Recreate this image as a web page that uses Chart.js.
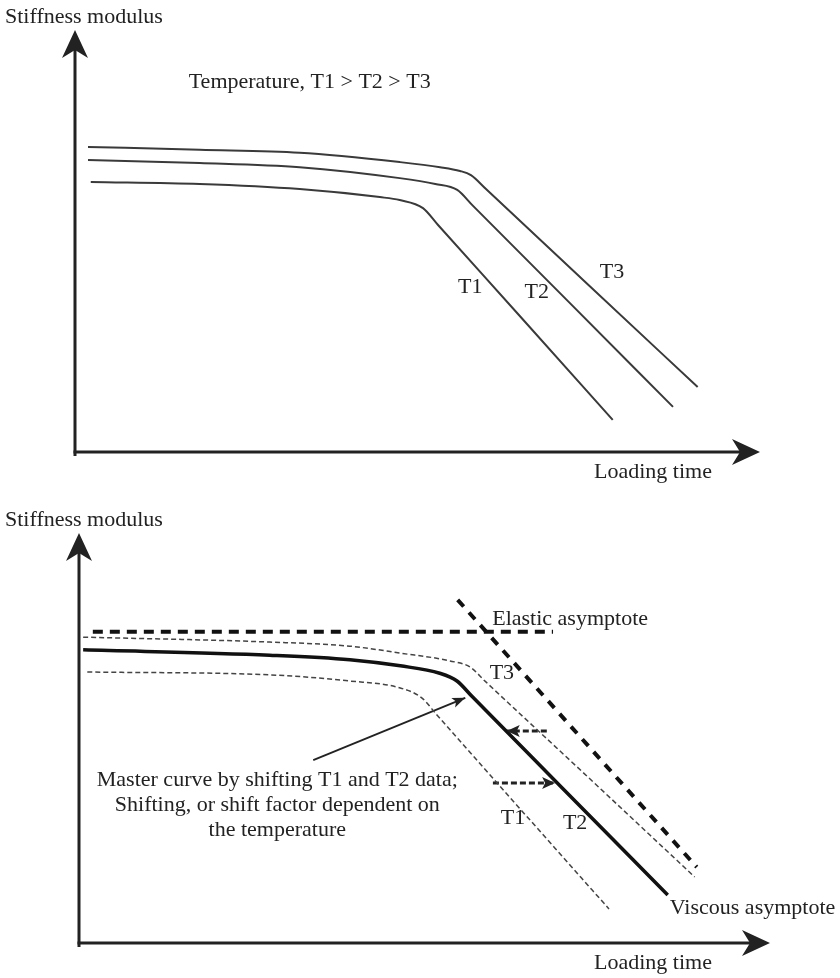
<!DOCTYPE html>
<html>
<head>
<meta charset="utf-8">
<script src="https://cdn.jsdelivr.net/npm/chart.js@4.4.1/dist/chart.umd.min.js"></script>
<style>
  html, body { margin: 0; padding: 0; background: #ffffff; }
  .panel { position: absolute; left: 0; width: 840px; height: 489px; }
  #p1 { top: 0; }
  #p2 { top: 489px; }
</style>
</head>
<body>
<div class="panel" id="p1"><canvas id="c1" width="840" height="489"></canvas></div>
<div class="panel" id="p2"><canvas id="c2" width="840" height="489"></canvas></div>
<script>
// ---- Data (x: log loading time, y: log stiffness modulus; schematic units 0-10) ----
// Top panel: isotherms
const topT1 = [[0.23,6.40],[1.82,6.35],[3.28,6.23],[4.45,6.04],[4.74,5.97],[5.08,5.78],[5.30,5.38],[6.50,3.21],[7.85,0.76]];
const topT2 = [[0.19,6.92],[1.82,6.85],[3.28,6.75],[4.74,6.49],[5.26,6.35],[5.58,6.21],[5.80,5.85],[7.20,3.57],[8.73,1.07]];
const topT3 = [[0.19,7.23],[1.82,7.16],[3.28,7.09],[4.74,6.87],[5.33,6.75],[5.62,6.66],[5.78,6.56],[6.00,6.23],[7.50,3.95],[9.09,1.54]];

// Bottom panel: master curve construction
const botElastic = [[0.20,7.59],[6.86,7.59]];
const botViscous = [[5.48,8.37],[8.94,1.85]];
const botT3 = [[0.06,7.46],[2.76,7.34],[3.92,7.24],[4.65,7.07],[5.37,6.88],[5.66,6.73],[5.88,6.38],[7.30,4.15],[8.91,1.61]];
const botMaster = [[0.06,7.15],[2.76,7.02],[3.92,6.91],[4.65,6.76],[5.22,6.58],[5.47,6.39],[5.69,6.01],[7.00,3.77],[8.52,1.17]];
const botT1 = [[0.12,6.61],[2.76,6.54],[3.92,6.39],[4.65,6.22],[4.96,5.98],[5.18,5.56],[6.30,3.43],[7.67,0.83]];
const shiftLeft = [[6.77,5.17],[6.19,5.17]];
const shiftRight = [[5.99,3.90],[6.89,3.90]];
const noteArrow = [[3.39,4.46],[5.59,5.98]];

// Text labels
const axisY = 'Stiffness modulus';
const axisX = 'Loading time';
const topTitle = 'Temperature, T1 > T2 > T3';
const noteLines = ['Master curve by shifting T1 and T2 data;', 'Shifting, or shift factor dependent on', 'the temperature'];

const FONT = '22px "Liberation Serif", "DejaVu Serif", serif';
const INK = '#222222';

const pts = a => a.map(p => ({x: p[0], y: p[1]}));

function head(ctx, x, y, ang, len, half, notch) {
  ctx.save();
  ctx.translate(x, y);
  ctx.rotate(ang);
  ctx.beginPath();
  ctx.moveTo(0, 0);
  ctx.lineTo(-len, -half);
  ctx.lineTo(-len + notch, 0);
  ctx.lineTo(-len, half);
  ctx.closePath();
  ctx.fill();
  ctx.restore();
}

function axesPlugin(cfg) {
  return {
    id: 'axesText' + cfg.id,
    afterDatasetsDraw(chart) {
      const ctx = chart.ctx;
      const a = chart.chartArea;
      const xs = chart.scales.x, ys = chart.scales.y;
      const px = v => xs.getPixelForValue(v), py = v => ys.getPixelForValue(v);
      ctx.save();
      ctx.strokeStyle = INK; ctx.fillStyle = INK;
      ctx.lineWidth = 3; ctx.setLineDash([]);
      // y axis
      ctx.beginPath(); ctx.moveTo(a.left, a.bottom + 4); ctx.lineTo(a.left, a.top + 18); ctx.stroke();
      head(ctx, a.left, a.top, -Math.PI / 2, 28, 13, 8);
      // x axis
      ctx.beginPath(); ctx.moveTo(a.left - 1.5, a.bottom); ctx.lineTo(a.right - 18, a.bottom); ctx.stroke();
      head(ctx, a.right, a.bottom, 0, 28, 13, 8);
      // arrowheads of data arrows
      (cfg.heads || []).forEach(h => {
        const s = h.seg;
        const x0 = px(s[0][0]), y0 = py(s[0][1]), x1 = px(s[1][0]), y1 = py(s[1][1]);
        head(ctx, x1, y1, Math.atan2(y1 - y0, x1 - x0), h.len, h.half, h.notch);
      });
      // texts
      ctx.font = FONT;
      ctx.textBaseline = 'middle';
      ctx.textAlign = 'left';
      ctx.fillText(axisY, cfg.yTitle[0], cfg.yTitle[1]);
      ctx.textAlign = 'center';
      ctx.fillText(axisX, cfg.xTitle[0], cfg.xTitle[1]);
      (cfg.labels || []).forEach(l => {
        ctx.textAlign = l.align || 'center';
        ctx.fillText(l.text, px(l.x), py(l.y));
      });
      ctx.restore();
    }
  };
}

function lineDs(data, color, width, dash, smooth) {
  const ds = {
    data: pts(data), showLine: true, borderColor: color, borderWidth: width,
    borderDash: dash || [], pointRadius: 0, tension: 0, fill: false,
    borderCapStyle: 'butt', borderJoinStyle: 'round', clip: false
  };
  if (smooth) ds.cubicInterpolationMode = 'monotone';
  return ds;
}

function baseOptions(pad) {
  return {
    responsive: false, animation: false, devicePixelRatio: 1,
    layout: { padding: pad },
    plugins: { legend: { display: false }, tooltip: { enabled: false } },
    scales: {
      x: { type: 'linear', min: 0, max: 10, display: false },
      y: { type: 'linear', min: 0, max: 10, display: false }
    }
  };
}

// ---- Top chart ----
new Chart(document.getElementById('c1'), {
  type: 'scatter',
  data: { datasets: [
    lineDs(topT1, '#3a3a3a', 2, null, true),
    lineDs(topT2, '#3a3a3a', 2, null, true),
    lineDs(topT3, '#3a3a3a', 2, null, true)
  ]},
  options: baseOptions({ left: 75, right: 80, top: 30, bottom: 37 }),
  plugins: [axesPlugin({
    id: 1,
    yTitle: [5, 17], xTitle: [653, 472],
    labels: [
      { text: topTitle, x: 1.66, y: 8.77, align: 'left' },
      { text: 'T1', x: 5.77, y: 3.91 },
      { text: 'T2', x: 6.74, y: 3.79 },
      { text: 'T3', x: 7.84, y: 4.27 }
    ]
  })]
});

// ---- Bottom chart ----
new Chart(document.getElementById('c2'), {
  type: 'scatter',
  data: { datasets: [
    lineDs(botElastic, '#111111', 4, [10, 7]),
    lineDs(botViscous, '#111111', 4, [9, 8]),
    lineDs(botT3, '#444444', 1.5, [5, 3], true),
    lineDs(botMaster, '#111111', 3.5, null, true),
    lineDs(botT1, '#444444', 1.5, [5, 3], true),
    lineDs(shiftLeft, '#222222', 3, [6, 3]),
    lineDs(shiftRight, '#222222', 3, [6, 3]),
    lineDs(noteArrow, '#222222', 1.8)
  ]},
  options: baseOptions({ left: 79, right: 70, top: 44, bottom: 35 }),
  plugins: [axesPlugin({
    id: 2,
    yTitle: [5, 31], xTitle: [653, 474],
    heads: [
      { seg: shiftLeft, len: 13, half: 6, notch: 3 },
      { seg: shiftRight, len: 13, half: 6, notch: 3 },
      { seg: noteArrow, len: 13, half: 5, notch: 3 }
    ],
    labels: [
      { text: 'Elastic asymptote', x: 5.98, y: 7.90, align: 'left' },
      { text: 'Viscous asymptote', x: 8.55, y: 0.85, align: 'left' },
      { text: 'T3', x: 6.12, y: 6.59 },
      { text: 'T1', x: 6.28, y: 3.05 },
      { text: 'T2', x: 7.18, y: 2.93 },
      { text: noteLines[0], x: 2.87, y: 3.98 },
      { text: noteLines[1], x: 2.87, y: 3.37 },
      { text: noteLines[2], x: 2.87, y: 2.76 }
    ]
  })]
});
</script>
</body>
</html>
